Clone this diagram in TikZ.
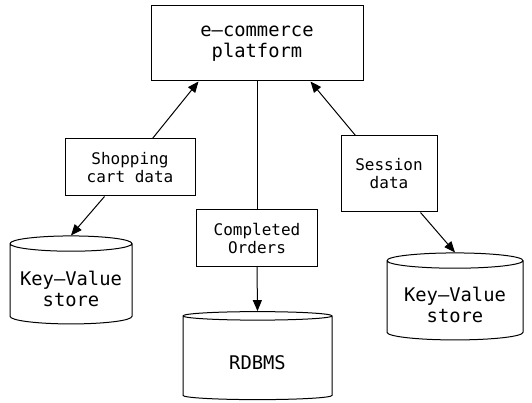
\documentclass[tikz,border=0pt]{standalone}
\usepackage{fontspec}
\setmonofont{DejaVu Sans Mono}
\usetikzlibrary{arrows.meta,shapes.geometric}
\tikzset{
  box/.style={draw,line width=1pt,inner sep=0pt,align=center,font=\ttfamily\fontsize{16}{18}\selectfont},
  bigbox/.style={box,font=\ttfamily\fontsize{18.8}{21}\selectfont},
  store/.style={draw,line width=1pt,cylinder,shape border rotate=90,aspect=0.15,inner sep=0pt,align=center,font=\ttfamily\fontsize{18.8}{21}\selectfont},
  flow/.style={line width=1pt,-{Triangle[length=11pt,width=9pt]}}
}
\begin{document}
\begin{tikzpicture}[x=1pt,y=-1pt]%[thick,scale=0.7, every node/.style={scale=0.7}]
\useasboundingbox (0,0) rectangle (532,403);
\node [bigbox,minimum width=212,minimum height=75] (platform) at (257,43.5) {e–commerce\\platform};
\node [box,minimum width=130,minimum height=57] (cart) at (130,167.5) {Shopping\\cart data};
\node [box,minimum width=96,minimum height=76] (session) at (389,174) {Session\\data};
\node [box,minimum width=121,minimum height=56] (orders) at (257,238) {Completed\\Orders};
\node [store,text height=44pt,text depth=0pt,minimum width=122,minimum height=88] (kvleft) at (71,284) {Key–Value\\store};
\node [store,text height=23.7pt,text depth=0pt,minimum width=149,minimum height=88] (rdbms) at (257.5,358) {RDBMS};
\node [store,text height=44pt,text depth=0pt,minimum width=136,minimum height=87] (kvright) at (455,300.5) {Key–Value\\store};
\draw [flow] ([xshift=88]cart.north west)--([xshift=48]platform.south west);
\draw [flow] ([xshift=40]cart.south west)--(kvleft.north);
\draw [line width=1pt] (platform.south)--(orders.north);
\draw [flow] (orders.south)--(rdbms.north);
\draw [flow] ([xshift=15]session.north west)--([xshift=-53]platform.south east);
\draw [flow] ([xshift=-17]session.south east)--(kvright.north);
\end{tikzpicture}
\end{document}
